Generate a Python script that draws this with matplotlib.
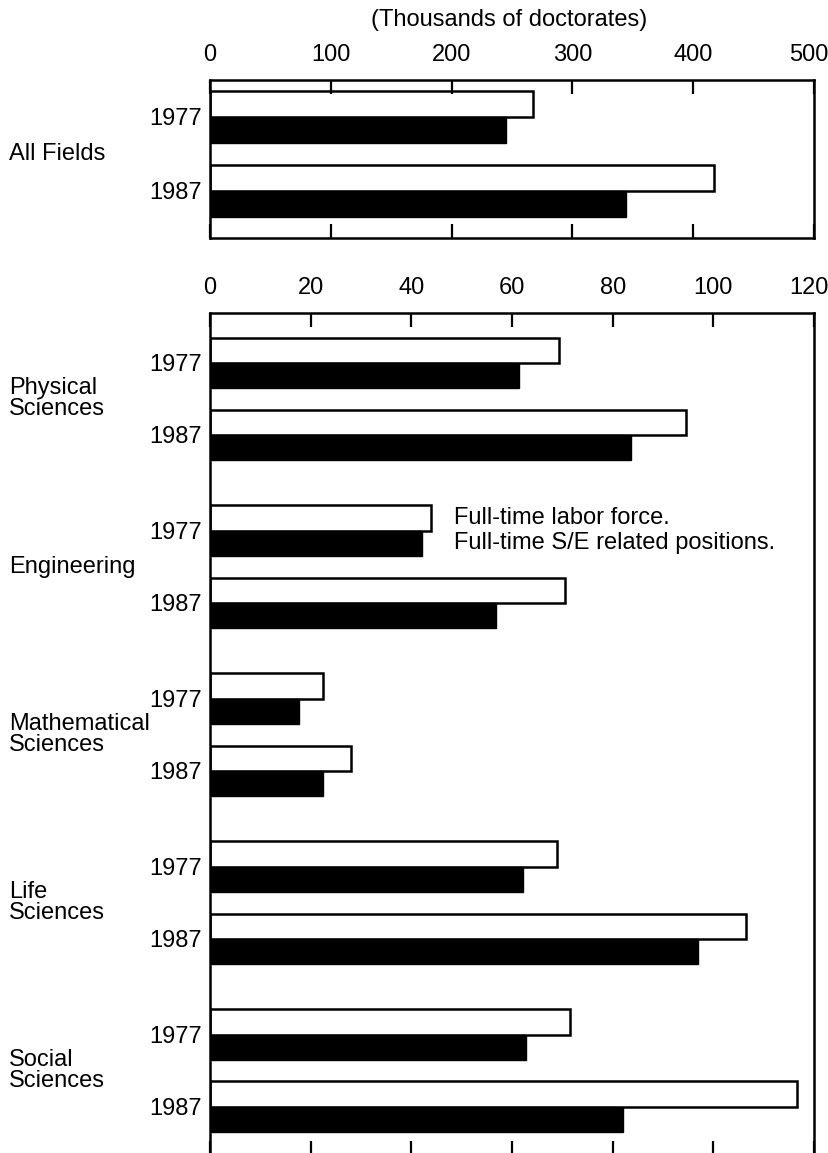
import matplotlib.pyplot as plt
from matplotlib import transforms

# --- data (thousands of doctorates) ---
years = ['1977', '1987']
all_labor = [267, 417]
all_se = [245, 344]

fields = ['Physical\nSciences', 'Engineering', 'Mathematical\nSciences',
          'Life\nSciences', 'Social\nSciences']
labor_force = [[69.4, 94.5], [44.0, 70.5], [22.4, 28.1], [69.0, 106.5], [71.6, 116.7]]
se_positions = [[61.3, 83.7], [42.1, 56.9], [17.7, 22.4], [62.1, 97.0], [62.8, 82.1]]

top_ticks = [0, 100, 200, 300, 400, 500]
bottom_ticks = [0, 20, 40, 60, 80, 100, 120]

plt.rcParams['font.family'] = ['Liberation Sans', 'DejaVu Sans']
FS = 17
BAR_H = 0.35
GROUP_STEP = 2.33

W, H = 829, 1153
fig = plt.figure(figsize=(W / 100, H / 100), dpi=100)


def px_axes(x0, y0, x1, y1):
    return fig.add_axes([x0 / W, 1 - y1 / H, (x1 - x0) / W, (y1 - y0) / H])


def style(ax, ticks, xmax):
    ax.set_xlim(0, xmax)
    ax.set_xticks(ticks)
    ax.set_xticklabels([str(t) for t in ticks])
    ax.xaxis.set_ticks_position('both')
    ax.tick_params(axis='x', direction='in', length=10, width=1.6,
                   labeltop=True, labelbottom=False, labelsize=FS, pad=10)
    ax.tick_params(axis='y', length=0, pad=6, labelsize=FS)
    for s in ax.spines.values():
        s.set_linewidth(1.8)
    # nudge the last tick label so it stays inside the figure
    last = ax.get_xticklabels(which='major')[-1]
    last.set_transform(last.get_transform() +
                       transforms.ScaledTranslation(-5 / 100, 0, fig.dpi_scale_trans))


def draw_pair(ax, y, white, black):
    ax.barh(y - BAR_H / 2, white, height=BAR_H, color='white',
            edgecolor='black', linewidth=1.8)
    ax.barh(y + BAR_H / 2, black, height=BAR_H, color='black',
            edgecolor='black', linewidth=1.0)


# --- top panel: all fields ---
ax1 = px_axes(210, 80, 814, 238)
ypos = [0, 1]
for y, w, b in zip(ypos, all_labor, all_se):
    draw_pair(ax1, y, w, b)
ax1.set_ylim(1.64, -0.5)
ax1.set_yticks(ypos)
ax1.set_yticklabels(years)
style(ax1, top_ticks, 500)
lab1 = transforms.blended_transform_factory(fig.transFigure, ax1.transData)
fig.text(9 / W, 0.5, 'All Fields', fontsize=FS, ha='left', va='center',
         transform=lab1)
fig.text(509 / W, 1 - 20 / H, '(Thousands of doctorates)', fontsize=FS,
         ha='center', va='center')

# --- bottom panel: by field ---
ax2 = px_axes(210, 313, 814, 1155)
lab2 = transforms.blended_transform_factory(fig.transFigure, ax2.transData)
yt, yl = [], []
for g, name in enumerate(fields):
    for k in range(2):
        y = g * GROUP_STEP + k
        draw_pair(ax2, y, labor_force[g][k], se_positions[g][k])
        yt.append(y)
        yl.append(years[k])
    fig.text(9 / W, g * GROUP_STEP + 0.5, name, fontsize=FS, ha='left',
             va='center', linespacing=0.95, transform=lab2)
ax2.set_ylim(4 * GROUP_STEP + 1 + 0.67, -0.69)
ax2.set_yticks(yt)
ax2.set_yticklabels(yl)
style(ax2, bottom_ticks, 120)

# note beside Engineering 1977
ax2.text(48.5, GROUP_STEP - BAR_H / 2, 'Full-time labor force.', fontsize=FS,
         ha='left', va='center')
ax2.text(48.5, GROUP_STEP + BAR_H / 2, 'Full-time S/E related positions.',
         fontsize=FS, ha='left', va='center')

fig.savefig('out.png', dpi=100)
